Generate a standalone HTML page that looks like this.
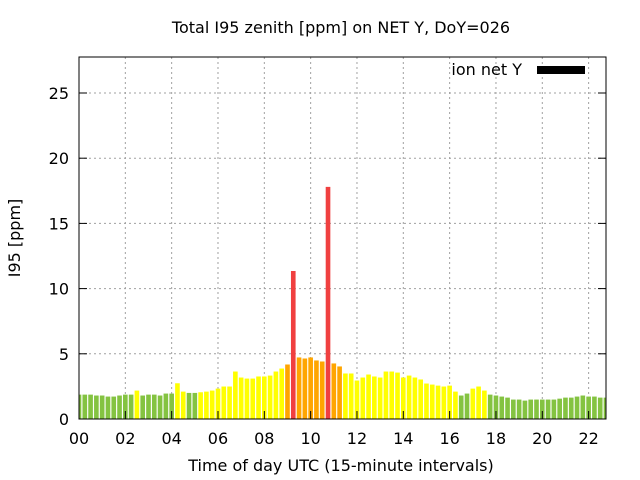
<!DOCTYPE html>
<html><head><meta charset="utf-8"><style>
body{margin:0;background:#fff}
svg{display:block;font-family:"DejaVu Sans","Liberation Sans",sans-serif}
</style></head><body>
<svg id="chart" width="640" height="480" xmlns="http://www.w3.org/2000/svg">
<rect width="640" height="480" fill="#fff"/>
<text x="341" y="33" text-anchor="middle" font-size="16">Total I95 zenith [ppm] on NET Y, DoY=026</text>
<g id="grid"></g>
<g id="bars"></g>
<g id="axes"></g>
<text x="341" y="471" text-anchor="middle" font-size="16">Time of day UTC (15-minute intervals)</text>
<text transform="translate(20,238) rotate(-90)" text-anchor="middle" font-size="16">I95 [ppm]</text>
<g>
<text x="522" y="75" text-anchor="end" font-size="16">ion net Y</text>
<rect x="537" y="66" width="48" height="8" fill="#000"/>
</g>
</svg>
<script>
const values=[1.87,1.87,1.87,1.8,1.8,1.72,1.72,1.8,1.87,1.87,2.18,1.8,1.87,1.87,1.8,1.95,1.95,2.74,2.1,2.0,2.0,2.05,2.1,2.18,2.33,2.49,2.49,3.64,3.18,3.1,3.1,3.26,3.26,3.33,3.64,3.87,4.18,11.35,4.72,4.64,4.72,4.49,4.41,17.8,4.26,4.03,3.49,3.49,2.95,3.18,3.41,3.26,3.18,3.64,3.64,3.56,3.18,3.33,3.18,3.03,2.72,2.64,2.56,2.49,2.56,2.1,1.8,1.95,2.33,2.49,2.18,1.87,1.8,1.72,1.64,1.49,1.49,1.41,1.49,1.49,1.49,1.49,1.49,1.56,1.64,1.64,1.72,1.8,1.72,1.72,1.64,1.64];
const xTicks=["00","02","04","06","08","10","12","14","16","18","20","22"];
const yTicks=[0,5,10,15,20,25];
const X0=79,X1=606,Y0=419,Y1=57,XMAX=22.75,YMAX=27.76;
const sx=h=>X0+h/XMAX*(X1-X0), sy=v=>Y0-v/YMAX*(Y0-Y1);
const NS="http://www.w3.org/2000/svg";
function mk(t,a,p){const e=document.createElementNS(NS,t);for(const k in a)e.setAttribute(k,a[k]);p.appendChild(e);return e;}
const grid=document.getElementById('grid'),bars=document.getElementById('bars'),axes=document.getElementById('axes');
yTicks.forEach(v=>{const y=sy(v);
 if(v>0){const g=mk('line',{x1:X0,x2:X1,y1:y,y2:y,stroke:'#a0a0a0','stroke-dasharray':'2,3'},grid);
 
 }
 const t=mk('line',{x1:X0,x2:X0+8,y1:y,y2:y,stroke:'#000'},axes);
 
 
 const t2=mk('line',{x1:X1-8,x2:X1,y1:y,y2:y,stroke:'#000'},axes);
 
 
 const l=mk('text',{x:X0-10,y:y+6,'text-anchor':'end','font-size':16},axes);l.textContent=v;
 
 
});
xTicks.forEach((s,i)=>{const x=sx(i*2);
 if(i>0){const g=mk('line',{x1:x,x2:x,y1:Y1,y2:Y0,stroke:'#a0a0a0','stroke-dasharray':'2,3'},grid);
 
 }
 const t=mk('line',{x1:x,x2:x,y1:Y0,y2:Y0-8,stroke:'#000'},axes);
 
 
 const l=mk('text',{x:x,y:444,'text-anchor':'middle','font-size':16},axes);l.textContent=s;
 
 
});
const step=(sx(0.25)-sx(0)),bw=step*0.8;
values.forEach((v,i)=>{const c=sx(i*0.25);let x=c-bw/2,w=bw;
 if(x<X0){w-=X0-x;x=X0;} if(x+w>X1)w=X1-x;
 const col=v<=2?'#84c341':v<=4?'#ffff00':v<=6?'#ffa500':'#f04040';
 const r=mk('rect',{x:x,y:sy(v),width:w,height:Y0-sy(v),fill:col},bars);
 
 
});
const f=mk('rect',{x:X0,y:Y1,width:X1-X0,height:Y0-Y1,fill:'none',stroke:'#000','stroke-width':1},axes);


</script>
</body></html>
